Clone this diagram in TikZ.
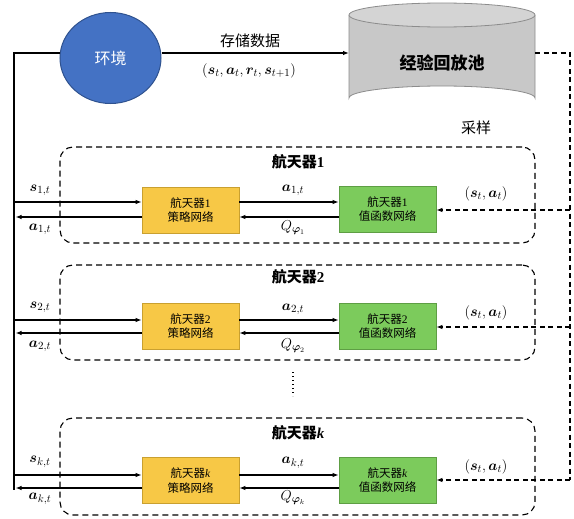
\documentclass[tikz,border=0pt]{standalone}
\usepackage{fontspec}
\usepackage{amsmath,bm}
\setmainfont{Liberation Serif}
\newfontfamily\cjk{Noto Sans CJK SC}
\usetikzlibrary{shapes.geometric,arrows.meta,calc}
\definecolor{envblue}{HTML}{4472C4}
\definecolor{envborder}{HTML}{2F528F}
\definecolor{yfill}{HTML}{F7C846}
\definecolor{yborder}{HTML}{C9A030}
\definecolor{gfill}{HTML}{7CCB5C}
\definecolor{gborder}{HTML}{5E9E44}
\definecolor{cylfill}{HTML}{C8C8C8}
\definecolor{cyltop}{HTML}{D4D4D4}
\definecolor{cylborder}{HTML}{8C8C8C}
\tikzset{
  ln/.style={line width=1.1pt, black},
  arr/.style={ln, -{Latex[length=6pt,width=4.5pt]}},
  darr/.style={ln, dash pattern=on 5pt off 3.5pt, -{Latex[length=6pt,width=4.5pt]}},
  dln/.style={ln, dash pattern=on 5pt off 3.5pt},
  group/.style={draw, line width=1.1pt, dash pattern=on 6pt off 4pt, rounded corners=13pt, minimum width=475pt, inner sep=0pt},
  policy/.style={draw=yborder, fill=yfill, line width=0.8pt, minimum width=97pt, minimum height=46pt, inner sep=0pt, align=center, font=\cjk\fontsize{11.5}{14.5}\selectfont},
  valuebox/.style={draw=gborder, fill=gfill, line width=0.8pt, minimum width=97pt, minimum height=46pt, inner sep=0pt, align=center, font=\cjk\fontsize{11.5}{14.5}\selectfont},
  grouptitle/.style={font=\cjk\bfseries\fontsize{15}{18}\selectfont},
  lbl/.style={font=\fontsize{15}{17}\selectfont, inner sep=0pt},
}
\begin{document}
\begin{tikzpicture}[x=1pt,y=-1pt]
\useasboundingbox (0,0) rectangle (574,519);

% environment
\node[ellipse, draw=envborder, fill=envblue, line width=1pt, minimum width=101pt, minimum height=91pt, inner sep=0pt,
      text=white, font=\cjk\fontsize{16}{18}\selectfont] (env) at (110.5,58) {环境};

% replay buffer cylinder
\fill[cylfill] (349,15) -- (349,98) arc[start angle=180,end angle=360,x radius=93,y radius=12] -- (535,15) -- cycle;
\draw[cylborder, line width=0.8pt] (349,15) -- (349,98) arc[start angle=180,end angle=360,x radius=93,y radius=12] -- (535,15);
\draw[cylborder, line width=0.8pt, fill=cyltop] (442,15) ellipse[x radius=93, y radius=12];
\node[font=\cjk\bfseries\fontsize{17}{20}\selectfont] (buf) at (442,63) {经验回放池};
\coordinate (cylL) at (349,53);
\coordinate (cylR) at (535,53);

% left bus
\coordinate (Ltop) at (14,53);
\coordinate (Lbot) at (14,490);
\draw[ln] (env.west |- Ltop) -- (Ltop) -- (Lbot);

% store arrow
\draw[arr] (env.east |- cylL) -- (cylL);
\node[font=\cjk\fontsize{15}{18}\selectfont] (store) at (250,41) {存储数据};
\node[lbl] (tuple) at (249,71) {$\left(\bm{s}_t,\bm{a}_t,\bm{r}_t,\bm{s}_{t+1}\right)$};

% right sampling bus
\coordinate (Rtop) at (570,53);
\coordinate (Rbot) at (570,480);
\draw[dln] (cylR) -- (Rtop) -- (Rbot);
\node[font=\cjk\fontsize{15}{18}\selectfont] (sample) at (476,128) {采样};

% groups
\node[group, minimum height=96pt] (g1) at (297.5,195) {};
\node[group, minimum height=95pt] (g2) at (297.5,312.5) {};
\node[group, minimum height=97pt] (gk) at (297.5,466.5) {};
\node[grouptitle] (t1) at (298,162) {航天器{\rmfamily\bfseries 1}};
\node[grouptitle] (t2) at (298,277) {航天器{\rmfamily\bfseries 2}};
\node[grouptitle] (tk) at (298,433) {航天器{\rmfamily\bfseries\itshape k}};

% networks
\node[policy] (p1) at (190.5,210) {航天器{\rmfamily 1}\\策略网络};
\node[valuebox] (v1) at (387.5,209) {航天器{\rmfamily 1}\\值函数网络};
\node[policy] (p2) at (190.5,326) {航天器{\rmfamily 2}\\策略网络};
\node[valuebox] (v2) at (387.5,326) {航天器{\rmfamily 2}\\值函数网络};
\node[policy] (pk) at (190.5,480.5) {航天器{\rmfamily\itshape k}\\策略网络};
\node[valuebox] (vk) at (387.5,480) {航天器{\rmfamily\itshape k}\\值函数网络};

% connection rows
\coordinate (u1) at (14,202); \coordinate (d1) at (14,217);
\coordinate (u2) at (14,320); \coordinate (d2) at (14,333);
\coordinate (uk) at (14,475); \coordinate (dk) at (14,488);
\coordinate (r1) at (570,210);
\coordinate (r2) at (570,327);

\foreach \i in {1,2,k}{
  \draw[arr] (u\i) -- (u\i -| p\i.west);
  \draw[arr] (p\i.west |- d\i) -- ([xshift=1.5pt]d\i);
  \draw[arr] (p\i.east |- u\i) -- (v\i.west |- u\i);
  \draw[arr] (v\i.west |- d\i) -- (p\i.east |- d\i);
}
\draw[darr] (r1) -- (r1 -| v1.east);
\draw[darr] (r2) -- (r2 -| v2.east);
\draw[darr] (Rbot) -- (Rbot -| vk.east);

% labels
\node[lbl] (ls1) at (40,190) {$\bm{s}_{1,t}$};
\node[lbl] (la1) at (40,229) {$\bm{a}_{1,t}$};
\node[lbl] (ma1) at (293,190) {$\bm{a}_{1,t}$};
\node[lbl] (q1) at (293,228) {$Q_{\bm{\varphi}_1}$};
\node[lbl] (sa1) at (486,194) {$\left(\bm{s}_t,\bm{a}_t\right)$};

\node[lbl] (ls2) at (40,307) {$\bm{s}_{2,t}$};
\node[lbl] (la2) at (40,346) {$\bm{a}_{2,t}$};
\node[lbl] (ma2) at (293,309) {$\bm{a}_{2,t}$};
\node[lbl] (q2) at (293,346) {$Q_{\bm{\varphi}_2}$};
\node[lbl] (sa2) at (486,313) {$\left(\bm{s}_t,\bm{a}_t\right)$};

\node[lbl] (lsk) at (40,462) {$\bm{s}_{k,t}$};
\node[lbl] (lak) at (40,499) {$\bm{a}_{k,t}$};
\node[lbl] (mak) at (293,463) {$\bm{a}_{k,t}$};
\node[lbl] (qk) at (293,498) {$Q_{\bm{\varphi}_k}$};
\node[lbl] (sak) at (486,467) {$\left(\bm{s}_t,\bm{a}_t\right)$};

% vertical ellipsis
\coordinate (dotA) at (293,372);
\coordinate (dotB) at (293,396);
\draw[line width=1.4pt, dash pattern=on 1.4pt off 2.6pt] (dotA) -- (dotB);
\end{tikzpicture}
\end{document}
